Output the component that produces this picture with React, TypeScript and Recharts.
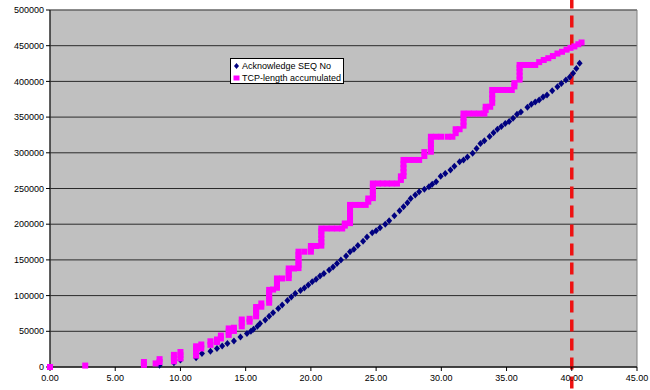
import React from 'react'
import { ScatterChart, Scatter, XAxis, YAxis, CartesianGrid, ReferenceLine, ReferenceArea } from 'recharts'

const xTicks = [0, 5, 10, 15, 20, 25, 30, 35, 40, 45]
const yTicks = [0, 50000, 100000, 150000, 200000, 250000, 300000, 350000, 400000, 450000, 500000]

const seriesNames = ['Acknowledge SEQ No', 'TCP-length accumulated']

// [time, value]
const ackSeq: [number, number][] = [
  [8.4, 2500], [9.5, 6000], [10.0, 9800], [11.2, 13000], [11.65, 19000], [12.3, 22000],
  [12.8, 26000], [13.2, 29500], [13.6, 33000], [14.1, 36500], [14.6, 42000], [15.1, 47000],
  [15.4, 50000], [15.6, 53000], [15.9, 57000], [16.1, 61000], [16.5, 66000], [16.8, 71000],
  [17.1, 76000], [17.5, 82000], [17.8, 87000], [18.2, 93000], [18.5, 98000], [18.8, 103000],
  [19.2, 107000], [19.5, 110500], [19.8, 115000], [20.1, 119500], [20.4, 123000], [20.7, 127500],
  [21.0, 131000], [21.4, 136000], [21.7, 140000], [22.0, 145000], [22.3, 150000], [22.7, 155500],
  [23.0, 161500], [23.3, 165000], [23.6, 170000], [24.0, 176000], [24.3, 182000], [24.7, 188000],
  [25.0, 191000], [25.3, 195000], [25.7, 200000], [26.0, 205000], [26.4, 212000], [26.8, 219000],
  [27.1, 224500], [27.4, 230000], [27.65, 236000], [28.0, 241000], [28.3, 245500], [28.7, 249000],
  [29.05, 252500], [29.3, 256000], [29.6, 259500], [29.95, 267000], [30.3, 271000], [30.7, 276000],
  [31.0, 281000], [31.4, 287500], [31.7, 290000], [32.0, 294000], [32.4, 299300], [32.7, 306000],
  [33.0, 313000], [33.3, 317000], [33.7, 323000], [34.0, 328000], [34.3, 333000], [34.6, 337000],
  [34.9, 341000], [35.2, 344000], [35.5, 348300], [35.8, 354000], [36.1, 357000], [36.6, 363700],
  [36.9, 368000], [37.2, 371000], [37.5, 374000], [37.8, 378000], [38.1, 381000], [38.5, 387000],
  [38.9, 392600], [39.2, 397000], [39.55, 402000], [39.85, 406000], [40.1, 411300], [40.35, 418000],
  [40.6, 425300],
]

const tcpLength: [number, number][] = [
  [0.0, 0], [2.7, 2000],
  [7.2, 3000], [7.2, 7000],
  [8.1, 5000], [8.4, 7000], [8.4, 11000],
  [9.5, 8000], [9.5, 12500], [9.5, 17000],
  [10.0, 12000], [10.0, 16500], [10.0, 21000],
  [11.2, 16000], [11.2, 21000], [11.2, 25500], [11.2, 29000],
  [11.6, 26000], [11.6, 31500],
  [12.3, 31000], [12.3, 36000],
  [12.8, 35000], [12.8, 38500],
  [13.1, 40000], [13.1, 44000],
  [13.7, 45000], [13.7, 49500], [13.7, 54000],
  [14.1, 50500], [14.1, 55000],
  [14.7, 57000], [14.7, 62000], [14.7, 66500],
  [15.3, 63500], [15.3, 67500],
  [15.8, 71000], [15.8, 75500], [15.8, 80000], [15.8, 84000],
  [16.2, 84500], [16.2, 89000],
  [16.8, 90000], [16.8, 94500], [16.8, 99000], [16.8, 103500], [16.8, 108000],
  [17.1, 108500],
  [17.4, 111000], [17.4, 115500], [17.4, 120000], [17.4, 124000],
  [17.8, 124000],
  [18.3, 124500], [18.3, 129000], [18.3, 133500], [18.3, 138000],
  [18.7, 138000],
  [19.05, 138500], [19.05, 143000], [19.05, 147500], [19.05, 152000], [19.05, 157000], [19.05, 161500],
  [19.5, 161500],
  [20.0, 161500], [20.0, 165500], [20.0, 169500],
  [20.4, 169500],
  [20.8, 170000], [20.8, 175000], [20.8, 180000], [20.8, 185000], [20.8, 190000], [20.8, 194000],
  [21.2, 194000], [21.6, 194000], [22.0, 194000], [22.4, 194000],
  [22.6, 198000], [22.6, 201000],
  [23.0, 201500], [23.0, 206500], [23.0, 211500], [23.0, 216500], [23.0, 221500], [23.0, 227000],
  [23.4, 227000], [23.8, 227000], [24.2, 227000],
  [24.4, 231500], [24.4, 236000],
  [24.75, 236500], [24.75, 241500], [24.75, 246500], [24.75, 251500], [24.75, 257000],
  [25.15, 257000], [25.5, 257000], [25.85, 257000],
  [26.2, 257000], [26.6, 257000],
  [26.9, 262000], [26.9, 267000],
  [27.1, 267500], [27.1, 273000], [27.1, 278500], [27.1, 284000], [27.1, 290000],
  [27.5, 290000], [27.9, 290000], [28.3, 290000],
  [28.7, 295500], [28.7, 301000],
  [29.2, 301500], [29.2, 307000], [29.2, 312000], [29.2, 317000], [29.2, 322500],
  [29.6, 322500], [30.0, 322500],
  [30.5, 322500], [30.85, 322500],
  [31.1, 327500], [31.1, 333000],
  [31.4, 333000],
  [31.7, 338000], [31.7, 343500], [31.7, 349000], [31.7, 355000],
  [32.1, 355000], [32.5, 355000], [32.9, 355000], [33.3, 355000],
  [33.4, 360000], [33.4, 364500],
  [33.75, 364500],
  [33.9, 370000], [33.9, 376000], [33.9, 382000], [33.9, 388000],
  [34.3, 388000], [34.7, 388000], [35.1, 388000], [35.4, 388000],
  [35.6, 393000], [35.6, 397500],
  [36.0, 402500], [36.0, 408000], [36.0, 413500], [36.0, 419000], [36.0, 423000],
  [36.4, 423000], [36.8, 423000], [37.2, 423000],
  [37.5, 427000], [37.85, 430000], [38.2, 432500], [38.55, 435500], [38.9, 439000],
  [39.25, 441500], [39.6, 444500], [39.9, 447000], [40.2, 449000], [40.5, 452000], [40.75, 454500],
]

const cutoffTime = 40

const NAVY = '#000080'
const MAGENTA = '#ff00ff'
const FONT = 'Arial, "Liberation Sans", sans-serif'

const ackData = ackSeq.map(([t, v]) => ({ t, v }))
const tcpData = tcpLength.map(([t, v]) => ({ t, v }))

const Diamond = (p: any) => (
  <polygon
    points={`${p.cx},${p.cy - 3.5} ${p.cx + 3},${p.cy} ${p.cx},${p.cy + 3.5} ${p.cx - 3},${p.cy}`}
    fill={NAVY}
  />
)

const Square = (p: any) => <rect x={p.cx - 3} y={p.cy - 3} width={6} height={6} fill={MAGENTA} />

function LegendBox() {
  const row: React.CSSProperties = { display: 'flex', alignItems: 'center', height: 12, whiteSpace: 'nowrap' }
  return (
    <div style={{
      position: 'absolute', left: 230, top: 58,
      width: 114, height: 26, boxSizing: 'border-box', border: '1px solid #000', background: '#fff',
      fontFamily: FONT, fontSize: 9, color: '#000', paddingLeft: 2, paddingTop: 1,
    }}>
      <div style={row}>
        <svg width={7} height={8} style={{ marginRight: 2, flexShrink: 0 }}>
          <polygon points="3.5,1 6,4 3.5,7 1,4" fill={NAVY} />
        </svg>
        {seriesNames[0]}
      </div>
      <div style={row}>
        <svg width={7} height={8} style={{ marginRight: 2, flexShrink: 0 }}>
          <rect x={0.5} y={1.5} width={6} height={5} fill={MAGENTA} />
        </svg>
        {seriesNames[1]}
      </div>
    </div>
  )
}

export default function App() {
  return (
    <div style={{ position: 'absolute', left: 0, top: 0, width: 650, height: 390, background: '#fff' }}>
      <ScatterChart width={650} height={390} margin={{ top: 10, right: 13, left: 0, bottom: 0 }}>
        <CartesianGrid vertical={false} stroke="#2a2a2a" fill="#c0c0c0" fillOpacity={1} />
        <ReferenceArea x1={0} x2={45} y1={0} y2={500000} fill="none" stroke="#808080" strokeWidth={1} />
        <XAxis
          type="number" dataKey="t" domain={[0, 45]} ticks={xTicks} interval={0}
          tickFormatter={(v: number) => v.toFixed(2)}
          height={23} tickSize={4} tickMargin={4}
          stroke="#000" tick={{ fontSize: 9, fill: '#000', fontFamily: FONT }}
        />
        <YAxis
          type="number" dataKey="v" domain={[0, 500000]} ticks={yTicks} interval={0}
          width={50} tickSize={4} tickMargin={2}
          stroke="#000" tick={{ fontSize: 9, fill: '#000', fontFamily: FONT }}
        />
        <Scatter name={seriesNames[0]} data={ackData} shape={Diamond} isAnimationActive={false} />
        <Scatter name={seriesNames[1]} data={tcpData} shape={Square} isAnimationActive={false} />
        <ReferenceLine
          segment={[{ x: cutoffTime, y: -30000 }, { x: cutoffTime, y: 515000 }]}
          ifOverflow="visible" stroke="#ee1111" strokeWidth={3.5} strokeDasharray="12 7"
        />
      </ScatterChart>
      <LegendBox />
    </div>
  )
}
